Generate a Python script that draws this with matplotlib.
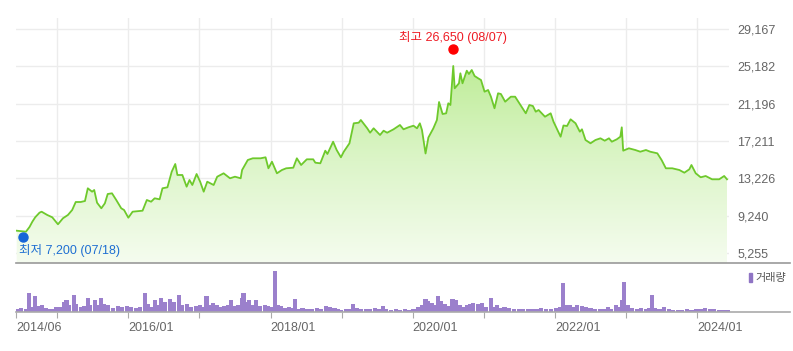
import numpy as np
import matplotlib
matplotlib.use("Agg")
import matplotlib.pyplot as plt
import matplotlib.transforms as mtransforms
from matplotlib.colors import LinearSegmentedColormap
from matplotlib.patches import Rectangle

# ---------------- data ----------------
price_years = [2014.43, 2014.56, 2014.61, 2014.65, 2014.69, 2014.75, 2014.78, 2014.86, 2014.93, 2015.01,
               2015.08, 2015.15, 2015.21, 2015.26, 2015.33, 2015.39, 2015.43, 2015.49, 2015.52, 2015.56,
               2015.62, 2015.67, 2015.71, 2015.77, 2015.83, 2015.90, 2015.94, 2016.00, 2016.06, 2016.15,
               2016.20, 2016.26, 2016.32, 2016.37, 2016.44, 2016.48, 2016.55, 2016.61, 2016.66, 2016.69,
               2016.76, 2016.82, 2016.86, 2016.90, 2016.96, 2017.01, 2017.06, 2017.11, 2017.20, 2017.25,
               2017.34, 2017.43, 2017.50, 2017.58, 2017.60, 2017.68, 2017.75, 2017.86, 2017.93, 2017.97,
               2018.02, 2018.09, 2018.16, 2018.22, 2018.32, 2018.37, 2018.43, 2018.51, 2018.60, 2018.63,
               2018.70, 2018.77, 2018.80, 2018.88, 2018.93, 2018.99, 2019.03, 2019.11, 2019.17, 2019.24,
               2019.27, 2019.36, 2019.40, 2019.45, 2019.54, 2019.59, 2019.64, 2019.73, 2019.82, 2019.87,
               2019.94, 2020.01, 2020.06, 2020.10, 2020.13, 2020.18, 2020.22, 2020.29, 2020.34, 2020.37,
               2020.42, 2020.47, 2020.50, 2020.53, 2020.57, 2020.59, 2020.65, 2020.67, 2020.70, 2020.76,
               2020.79, 2020.83, 2020.87, 2020.92, 2020.96, 2021.01, 2021.06, 2021.10, 2021.15, 2021.20,
               2021.24, 2021.30, 2021.38, 2021.44, 2021.50, 2021.59, 2021.64, 2021.69, 2021.73, 2021.77,
               2021.86, 2021.94, 2021.98, 2022.08, 2022.12, 2022.17, 2022.22, 2022.29, 2022.35, 2022.38,
               2022.43, 2022.50, 2022.57, 2022.64, 2022.70, 2022.76, 2022.80, 2022.87, 2022.92, 2022.94,
               2022.96, 2023.04, 2023.13, 2023.20, 2023.28, 2023.34, 2023.44, 2023.50, 2023.56, 2023.65,
               2023.75, 2023.82, 2023.89, 2023.92, 2023.98, 2024.05, 2024.12, 2024.21, 2024.31, 2024.38,
               2024.42]
prices = [7635, 7529, 8031, 8596, 9066, 9557, 9664, 9312, 9066, 8319,
          8959, 9312, 9845, 10699, 10699, 10806, 12162, 11799, 11980, 10625,
          10027, 10560, 11553, 11628, 10913, 10027, 9845, 9023, 9664, 9739,
          9771, 10913, 10731, 11094, 10987, 12162, 12268, 13934, 14756, 13582,
          13582, 12333, 13048, 12514, 13688, 12866, 11799, 12866, 12514, 13400,
          13763, 13229, 13400, 13229, 14115, 15183, 15364, 15364, 15471, 14297,
          15001, 13763, 14115, 14297, 14361, 15364, 14649, 15257, 15257, 14895,
          14830, 16176, 15823, 17136, 16250, 15471, 16069, 16965, 19100, 19165,
          19453, 18567, 18097, 18567, 17852, 18310, 18097, 18460, 18919, 18460,
          18673, 18844, 18567, 19100, 18385, 15877, 17585, 18567, 19453, 21374,
          20093, 20168, 21235, 21054, 25217, 22837, 23370, 24438, 23370, 24716,
          24363, 24790, 24150, 23904, 23723, 22474, 22655, 21940, 20702, 22303,
          22228, 21406, 21940, 21940, 21235, 20168, 21054, 20947, 20339, 20520,
          19805, 20168, 19271, 17670, 18866, 18812, 19527, 19100, 18204, 18460,
          17318, 16965, 17318, 17499, 17243, 17499, 17136, 17392, 17670, 18673,
          16176, 16432, 16250, 16069, 16250, 16069, 15898, 15183, 14297, 14297,
          14115, 13827, 14190, 14649, 13763, 13336, 13475, 13122, 13122, 13475,
          13122]

volume_years = [2014.43, 2014.49, 2014.56, 2014.60, 2014.64, 2014.69, 2014.73, 2014.78, 2014.84, 2014.90,
                2014.95, 2014.99, 2015.04, 2015.09, 2015.13, 2015.17, 2015.24, 2015.27, 2015.33, 2015.38,
                2015.43, 2015.46, 2015.53, 2015.57, 2015.61, 2015.66, 2015.72, 2015.78, 2015.85, 2015.91,
                2015.98, 2016.04, 2016.11, 2016.17, 2016.24, 2016.28, 2016.33, 2016.37, 2016.41, 2016.46,
                2016.52, 2016.59, 2016.64, 2016.71, 2016.75, 2016.82, 2016.88, 2016.95, 2017.01, 2017.06,
                2017.10, 2017.14, 2017.19, 2017.24, 2017.29, 2017.35, 2017.40, 2017.45, 2017.50, 2017.55,
                2017.60, 2017.62, 2017.66, 2017.70, 2017.75, 2017.79, 2017.85, 2017.92, 2017.96, 2018.01,
                2018.06, 2018.11, 2018.15, 2018.21, 2018.26, 2018.30, 2018.34, 2018.39, 2018.45, 2018.52,
                2018.58, 2018.65, 2018.71, 2018.78, 2018.84, 2018.90, 2018.95, 2018.99, 2019.06, 2019.11,
                2019.16, 2019.21, 2019.27, 2019.34, 2019.40, 2019.47, 2019.53, 2019.58, 2019.63, 2019.69,
                2019.76, 2019.82, 2019.89, 2019.95, 2020.01, 2020.08, 2020.13, 2020.18, 2020.22, 2020.27,
                2020.32, 2020.36, 2020.40, 2020.45, 2020.50, 2020.56, 2020.61, 2020.66, 2020.71, 2020.76,
                2020.80, 2020.85, 2020.92, 2020.97, 2021.03, 2021.10, 2021.14, 2021.19, 2021.24, 2021.29,
                2021.36, 2021.42, 2021.49, 2021.55, 2021.62, 2021.68, 2021.74, 2021.81, 2021.87, 2021.94,
                2022.02, 2022.07, 2022.11, 2022.16, 2022.21, 2022.26, 2022.31, 2022.38, 2022.44, 2022.50,
                2022.56, 2022.63, 2022.69, 2022.75, 2022.79, 2022.86, 2022.92, 2022.95, 2022.97, 2023.02,
                2023.08, 2023.15, 2023.21, 2023.28, 2023.32, 2023.36, 2023.40, 2023.47, 2023.53, 2023.60,
                2023.66, 2023.73, 2023.79, 2023.86, 2023.92, 2023.98, 2024.02, 2024.07, 2024.11, 2024.18,
                2024.24, 2024.31, 2024.37, 2024.44]
volumes = [10, 12, 8, 57, 15, 47, 18, 22, 12, 8,
           10, 14, 16, 30, 35, 20, 50, 25, 15, 18,
           40, 22, 35, 20, 40, 25, 20, 12, 18, 15,
           18, 15, 12, 15, 55, 25, 15, 35, 20, 42,
           30, 38, 30, 50, 22, 25, 15, 18, 22, 15,
           48, 20, 28, 20, 15, 18, 20, 35, 18, 20,
           40, 55, 30, 35, 20, 35, 18, 20, 18, 15,
           121, 22, 18, 12, 15, 12, 38, 10, 12, 10,
           8, 12, 10, 18, 15, 12, 8, 6, 8, 10,
           25, 12, 10, 8, 10, 12, 8, 18, 8, 6,
           8, 6, 8, 6, 8, 15, 20, 38, 32, 28,
           20, 48, 32, 25, 18, 38, 35, 20, 15, 20,
           25, 28, 25, 28, 15, 40, 15, 20, 12, 15,
           12, 10, 8, 10, 8, 10, 8, 12, 10, 10,
           12, 15, 85, 20, 22, 15, 20, 18, 15, 12,
           10, 8, 10, 15, 10, 20, 15, 35, 88, 20,
           12, 10, 12, 10, 12, 50, 12, 10, 15, 8,
           6, 5, 6, 8, 6, 8, 10, 8, 12, 8,
           10, 6, 5, 6]

y_ticks = [5255, 9240, 13226, 17211, 21196, 25182, 29167]
y_tick_labels = ["5,255", "9,240", "13,226", "17,211", "21,196", "25,182", "29,167"]
x_ticks = [2014.42, 2015.0, 2016.0, 2017.0, 2018.0, 2019.0, 2020.0, 2021.0, 2022.0, 2023.0, 2024.0]
x_tick_labels = ["2014/06", "", "2016/01", "", "2018/01", "", "2020/01", "", "2022/01", "", "2024/01"]

high_year, high_value, high_label = 2020.60, 26650, "최고 26,650 (08/07)"
low_year, low_value, low_label = 2014.545, 7200, "최저 7,200 (07/18)"
legend_label = "거래량"

# ---------------- figure ----------------
W, H = 793, 351
fig = plt.figure(figsize=(W / 100, H / 100), dpi=100)
fig.patch.set_facecolor("white")

def fx(px):
    return px / W

def fy(py):
    return 1 - py / H

px_per_year = 71.1
x_left = 2014.42
fam = ["Liberation Sans", "Noto Sans CJK KR", "DejaVu Sans"]

# price axes
ax = fig.add_axes([fx(16), fy(263), fx(729) - fx(16), fy(18) - fy(263)])
ax.set_xlim(x_left, x_left + (729 - 16) / px_per_year)
ax.set_ylim(4187.5, 30341)
for s in ax.spines.values():
    s.set_visible(False)
ax.set_yticks(y_ticks)
ax.set_yticklabels(y_tick_labels)
ax.yaxis.tick_right()
ax.tick_params(axis="y", length=0, pad=6, labelsize=9, labelcolor="#666666")
for t in ax.get_yticklabels():
    t.set_family(fam)
ax.set_xticks(x_ticks[1:])
ax.tick_params(axis="x", length=0, labelbottom=False)
ax.grid(True, color="#ececec", linewidth=1)
ax.set_axisbelow(True)

# gradient fill under line
poly = ax.fill_between(price_years, prices, 4187.5, color="none", linewidth=0)
cmap = LinearSegmentedColormap.from_list("g", ["#f5fcef", "#dcf5c8", "#bdec95"])
grad = np.linspace(0, 1, 256).reshape(-1, 1)
im = ax.imshow(grad, extent=[x_left, 2024.45, 4187.5, 26000], aspect="auto",
               origin="lower", cmap=cmap, zorder=2)
im.set_clip_path(poly.get_paths()[0], transform=ax.transData)
ax.plot(price_years, prices, color="#6ec92c", linewidth=1.3, zorder=3)

# high / low markers
up = mtransforms.ScaledTranslation(-2 / 100, 4 / 100, fig.dpi_scale_trans)
ax.plot([high_year], [high_value], "o", color="#ff0000", markersize=6.5, zorder=5,
        clip_on=False, transform=ax.transData + up)
ax.annotate(high_label, (high_year, high_value), xytext=(-1.5, 6.5), textcoords="offset points",
            ha="center", va="bottom", color="#ee1c25", fontsize=9, family=fam)
down = mtransforms.ScaledTranslation(-2 / 100, -2 / 100, fig.dpi_scale_trans)
ax.plot([low_year], [low_value], "o", color="#1565d8", markersize=6.5, zorder=5,
        clip_on=False, transform=ax.transData + down)
ax.annotate(low_label, (low_year, low_value), xytext=(-4.5, -6.5), textcoords="offset points",
            ha="left", va="top", color="#1f6fd2", fontsize=9, family=fam)

# volume axes
axv = fig.add_axes([fx(16), fy(312), fx(790) - fx(16), fy(263) - fy(312)])
axv.set_xlim(x_left, x_left + (790 - 16) / px_per_year)
axv.set_ylim(0, 145)
axv.bar(volume_years, volumes, width=0.058, color="#9b80cc", linewidth=0)
for k in ["left", "right"]:
    axv.spines[k].set_visible(False)
axv.spines["top"].set_color("#999999")
axv.spines["bottom"].set_color("#aaaaaa")
axv.spines["top"].set_linewidth(1.2)
axv.spines["bottom"].set_linewidth(1.2)
axv.set_yticks([])
axv.set_xticks(x_ticks)
axv.set_xticklabels(x_tick_labels)
axv.tick_params(axis="x", length=4, color="#aaaaaa", pad=3, labelsize=9, labelcolor="#666666")
for t in axv.get_xticklabels():
    t.set_family(fam)
    t.set_horizontalalignment("left")
axv.set_facecolor("none")

# legend
fig.patches.append(Rectangle((fx(749), fy(282)), fx(3), 9 / H, transform=fig.transFigure,
                             color="#8f74c4", figure=fig))
fig.text(fx(755), fy(277.5), legend_label, ha="left", va="center", fontsize=8,
         color="#555555", family=["Noto Sans CJK KR", "DejaVu Sans"])

fig.savefig("out.png", dpi=100, facecolor="white")
